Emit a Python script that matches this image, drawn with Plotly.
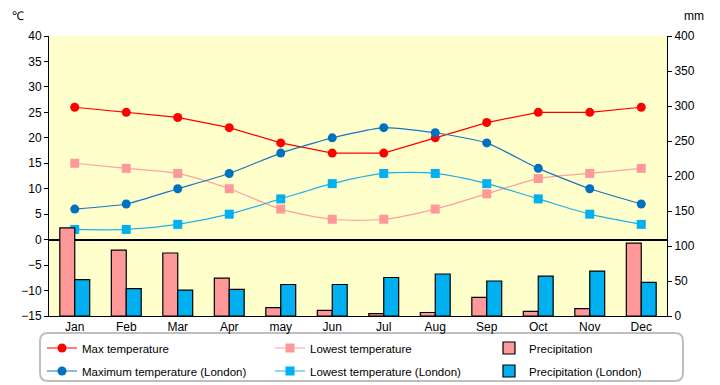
import plotly.graph_objects as go

months = ["Jan", "Feb", "Mar", "Apr", "may", "Jun", "Jul", "Aug", "Sep", "Oct", "Nov", "Dec"]
max_temp = [26, 25, 24, 22, 19, 17, 17, 20, 23, 25, 25, 26]
low_temp = [15, 14, 13, 10, 6, 4, 4, 6, 9, 12, 13, 14]
precip = [126, 94, 90, 54, 12, 8, 3.5, 5, 26.5, 6.5, 10.5, 104]
max_temp_lon = [6, 7, 10, 13, 17, 20, 22, 21, 19, 14, 10, 7]
low_temp_lon = [2, 2, 3, 5, 8, 11, 13, 13, 11, 8, 5, 3]
precip_lon = [52, 39, 37, 38, 45, 45, 55, 60, 50, 57, 64, 48]

FONT = "Liberation Sans, Arial, sans-serif"

W, H = 720, 385
ml, mr, mt, mb = 49, 53, 36, 69
pw, ph = W - ml - mr, H - mt - mb
def px_x(p):
    return (p - ml) / pw
def px_y(p):
    return (H - mb - p) / ph

fig = go.Figure()

fig.add_trace(go.Bar(x=months, y=precip, name="Precipitation", yaxis="y2",
                     marker=dict(color="#FF9999", line=dict(color="black", width=1.2)),
                     legend="legend3"))
fig.add_trace(go.Bar(x=months, y=precip_lon, name="Precipitation (London)", yaxis="y2",
                     marker=dict(color="#00B0F0", line=dict(color="black", width=1.2)),
                     legend="legend6"))

fig.add_trace(go.Scatter(x=months, y=max_temp, name="Max temperature", mode="lines+markers",
                         line=dict(color="#FF0000", width=1.2),
                         marker=dict(symbol="circle", size=9, color="#FF0000"),
                         legend="legend"))
fig.add_trace(go.Scatter(x=months, y=low_temp, name="Lowest temperature", mode="lines+markers",
                         line=dict(color="#FFA0A0", width=1.2, shape="spline", smoothing=0.8),
                         marker=dict(symbol="square", size=9, color="#FF9999"),
                         legend="legend2"))
fig.add_trace(go.Scatter(x=months, y=max_temp_lon, name="Maximum temperature (London)", mode="lines+markers",
                         line=dict(color="#1A75C0", width=1.2, shape="spline", smoothing=0.5),
                         marker=dict(symbol="circle", size=9, color="#0070C0"),
                         legend="legend4"))
fig.add_trace(go.Scatter(x=months, y=low_temp_lon, name="Lowest temperature (London)", mode="lines+markers",
                         line=dict(color="#20B0E8", width=1.2, shape="spline", smoothing=0.8),
                         marker=dict(symbol="square", size=9, color="#00B0F0"),
                         legend="legend5"))

# rounded legend frame in paper coords
x0, x1, y0, y1, r = 40, 683, 333, 381, 8
path = (f"M {px_x(x0+r)},{px_y(y0)} L {px_x(x1-r)},{px_y(y0)} "
        f"Q {px_x(x1)},{px_y(y0)} {px_x(x1)},{px_y(y0+r)} "
        f"L {px_x(x1)},{px_y(y1-r)} Q {px_x(x1)},{px_y(y1)} {px_x(x1-r)},{px_y(y1)} "
        f"L {px_x(x0+r)},{px_y(y1)} Q {px_x(x0)},{px_y(y1)} {px_x(x0)},{px_y(y1-r)} "
        f"L {px_x(x0)},{px_y(y0+r)} Q {px_x(x0)},{px_y(y0)} {px_x(x0+r)},{px_y(y0)} Z")

def leg(xpx, ypx):
    return dict(orientation="v", x=px_x(xpx), xanchor="left", y=px_y(ypx), yanchor="middle",
                font=dict(size=11.5, family=FONT), bgcolor="rgba(0,0,0,0)", borderwidth=0,
                itemwidth=30)

cols = [42, 270, 489]
rows = [348, 371]

fig.update_layout(
    width=W, height=H,
    margin=dict(l=ml, r=mr, t=mt, b=mb, autoexpand=False),
    paper_bgcolor="white",
    plot_bgcolor="#FFFFCC",
    font=dict(family=FONT, size=12, color="black"),
    barmode="group",
    bargap=0.42,
    bargroupgap=0,
    xaxis=dict(range=[-0.5, 11.5], showline=True, linecolor="black", linewidth=1, ticks="",
               showgrid=False, tickfont=dict(size=12), fixedrange=True),
    yaxis=dict(range=[-15, 40], dtick=5, showline=True, linecolor="black", linewidth=1,
               ticks="outside", ticklen=4, tickcolor="black", showgrid=False,
               zeroline=True, zerolinecolor="black", zerolinewidth=1.5),
    yaxis2=dict(range=[0, 400], dtick=50, overlaying="y", side="right", showline=True,
                linecolor="black", linewidth=1, ticks="outside", ticklen=4, tickcolor="black",
                showgrid=False, zeroline=False),
    showlegend=True,
    legend=leg(cols[0], rows[0]),
    legend2=leg(cols[1], rows[0]),
    legend3=leg(cols[2], rows[0]),
    legend4=leg(cols[0], rows[1]),
    legend5=leg(cols[1], rows[1]),
    legend6=leg(cols[2], rows[1]),
    shapes=[dict(type="path", xref="paper", yref="paper", path=path,
                 line=dict(color="#BFBFBF", width=2), fillcolor="rgba(0,0,0,0)", layer="below")],
    annotations=[
        dict(text="℃", xref="paper", yref="paper", x=px_x(10), y=px_y(16), xanchor="left",
             yanchor="middle", showarrow=False, font=dict(size=12)),
        dict(text="mm", xref="paper", yref="paper", x=px_x(682), y=px_y(16), xanchor="left",
             yanchor="middle", showarrow=False, font=dict(size=12)),
    ],
)

fig.write_html("out.html", config={"displayModeBar": False},
               post_script="document.body.style.margin='0px';")
